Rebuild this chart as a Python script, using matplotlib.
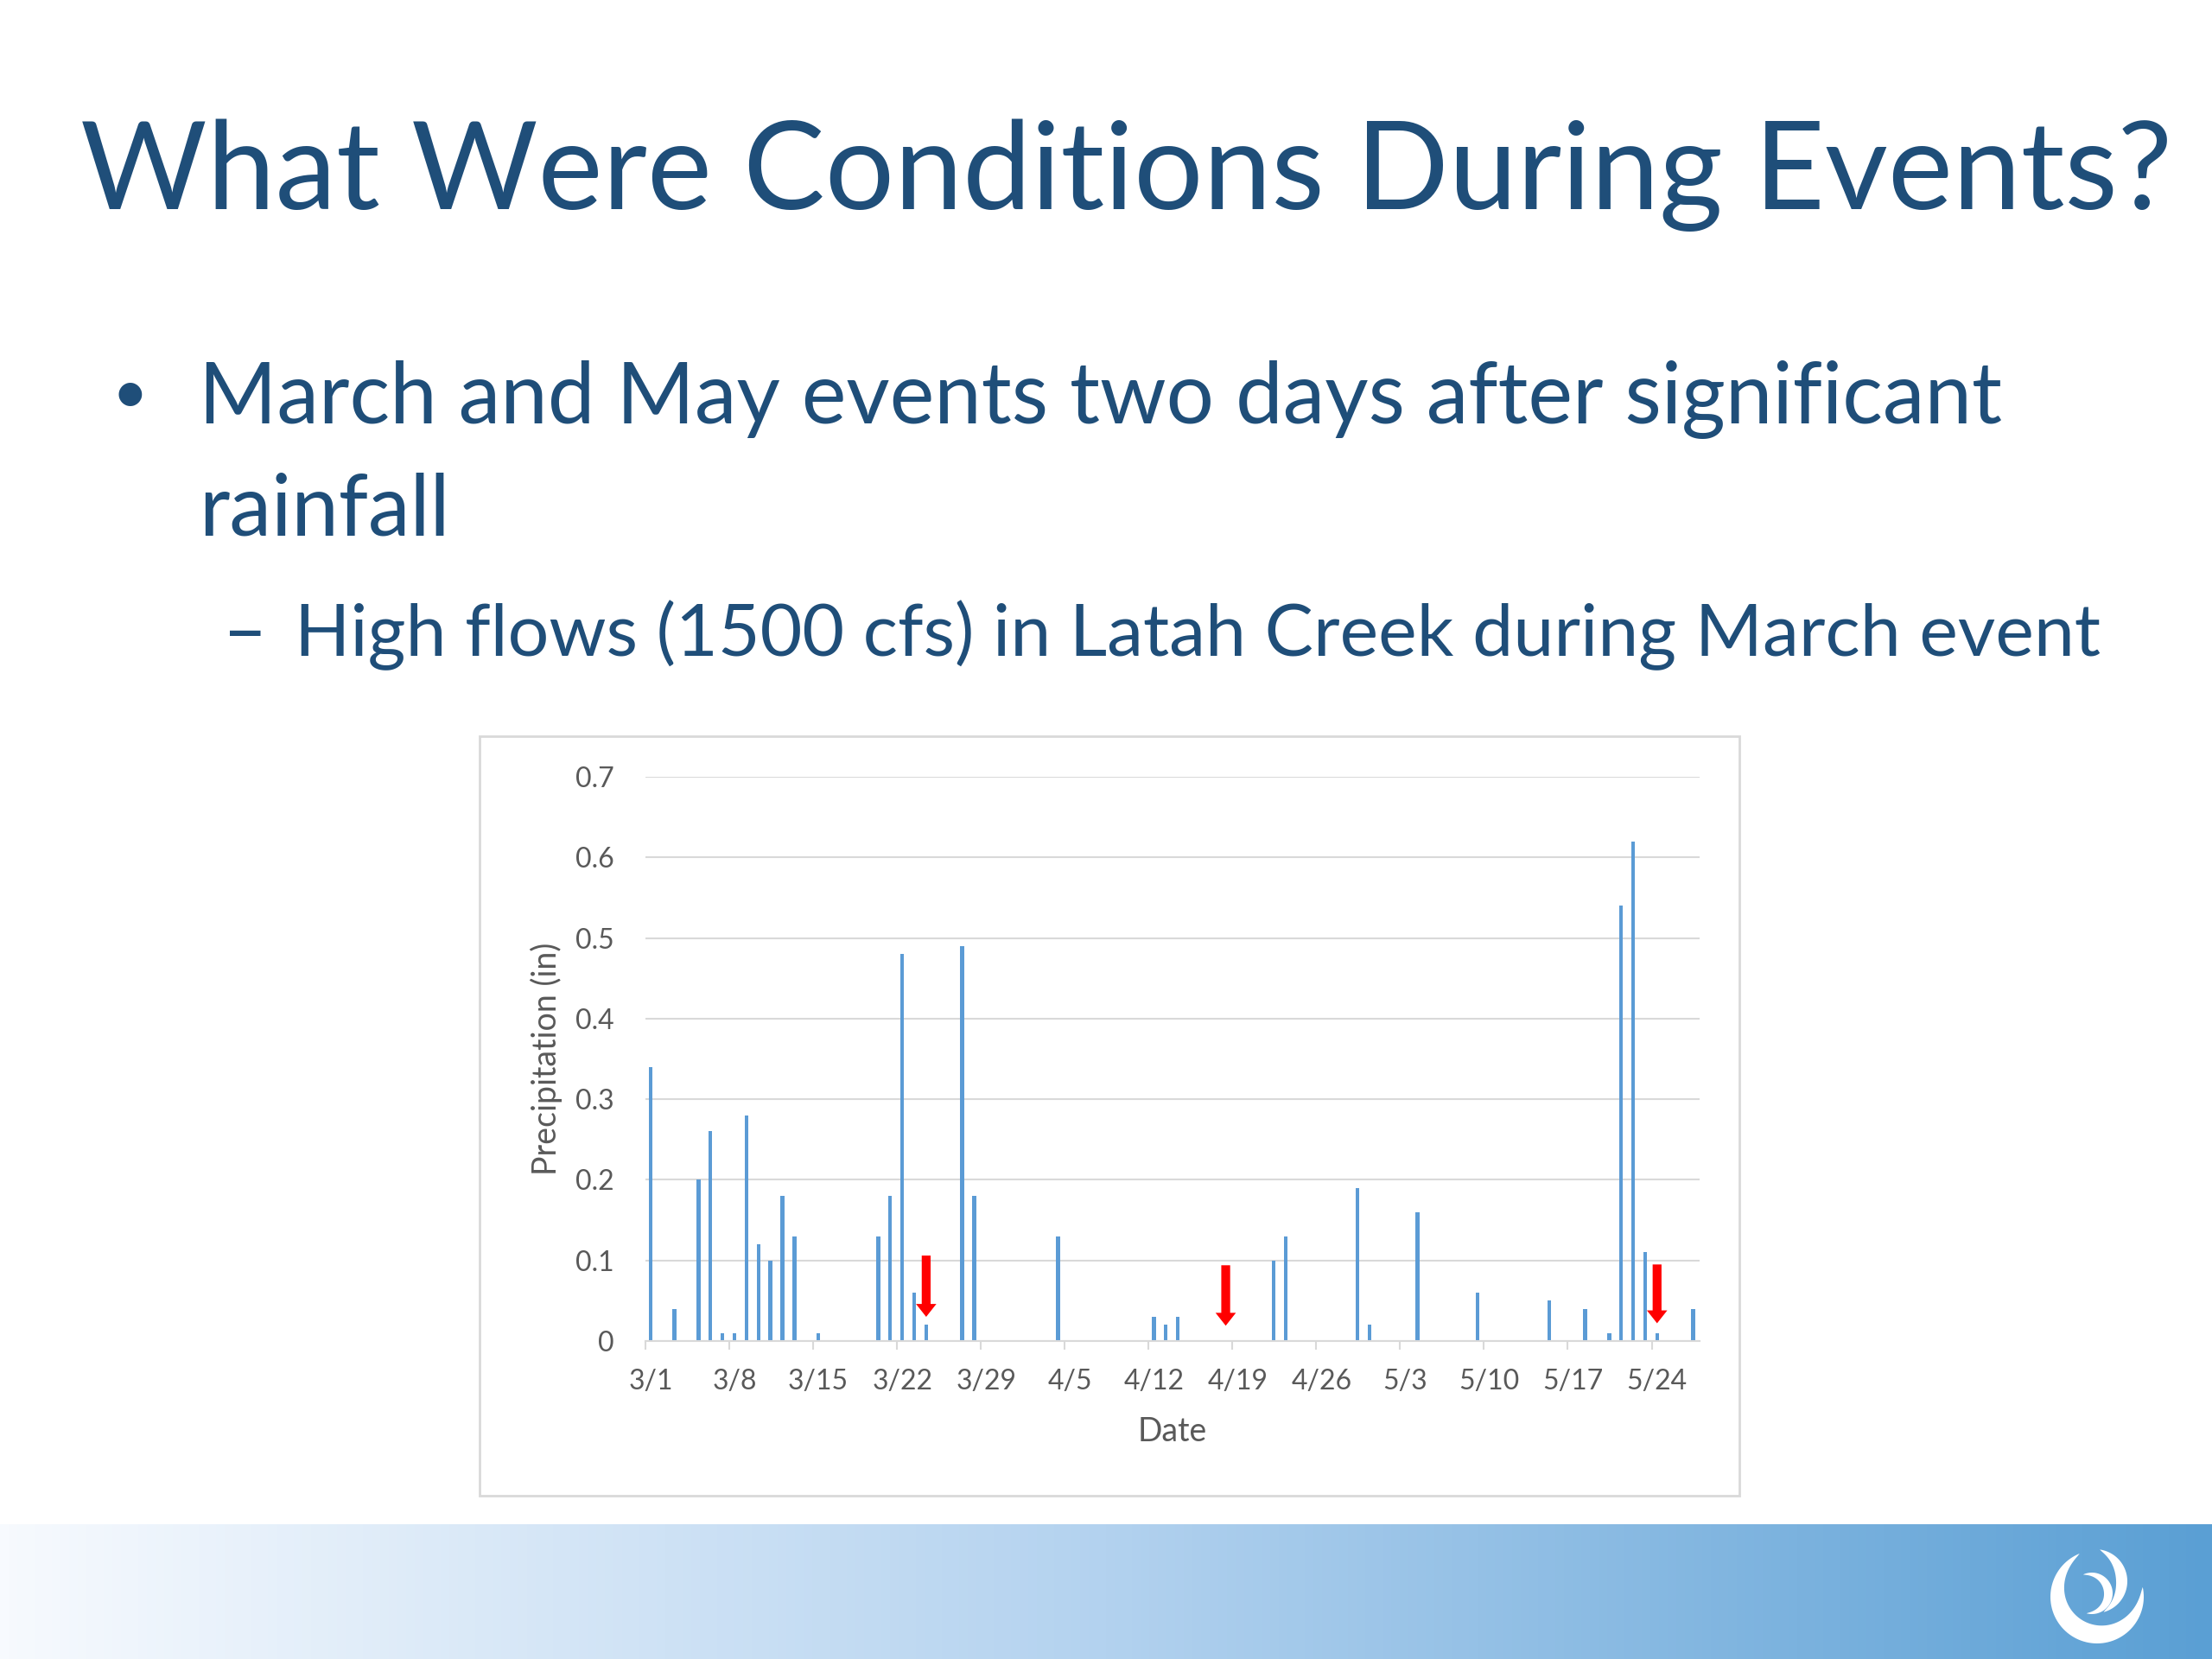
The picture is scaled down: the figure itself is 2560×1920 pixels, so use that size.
import matplotlib
matplotlib.use("Agg")
import matplotlib.pyplot as plt
import numpy as np
import pandas as pd
from matplotlib.colors import LinearSegmentedColormap
from matplotlib.patches import Rectangle, Polygon

plt.rcParams['font.family'] = ['Lato', 'DejaVu Sans']

# daily precipitation, spring (m/d)
dates = ['3/1', '3/3', '3/5', '3/6', '3/7', '3/8', '3/9', '3/10', '3/11', '3/12',
         '3/13', '3/15', '3/20', '3/21', '3/22', '3/23', '3/24', '3/27', '3/28',
         '4/4', '4/12', '4/13', '4/14', '4/22', '4/23', '4/29', '4/30',
         '5/4', '5/9', '5/15', '5/18', '5/20', '5/21', '5/22', '5/23', '5/24', '5/27']
precip = [0.34, 0.04, 0.20, 0.26, 0.01, 0.01, 0.28, 0.12, 0.10, 0.18,
          0.13, 0.01, 0.13, 0.18, 0.48, 0.06, 0.02, 0.49, 0.18,
          0.13, 0.03, 0.02, 0.03, 0.10, 0.13, 0.19, 0.02,
          0.16, 0.06, 0.05, 0.04, 0.01, 0.54, 0.62, 0.11, 0.01, 0.04]

# event markers (red arrows)
event_dates = ['3/24', '4/18', '5/24']
arrow_top = [0.106, 0.094, 0.095]
arrow_tip = [0.030, 0.019, 0.022]

tick_labels = ['3/1', '3/8', '3/15', '3/22', '3/29', '4/5', '4/12', '4/19',
               '4/26', '5/3', '5/10', '5/17', '5/24']
y_ticks = [0, 0.1, 0.2, 0.3, 0.4, 0.5, 0.6, 0.7]

title = 'What Were Conditions During Events?'
bullet1 = ['March and May events two days after significant', 'rainfall']
bullet2 = 'High flows (1500 cfs) in Latah Creek during March event'

W, H = 2560, 1920
navy = '#1f4e79'
grey = '#595959'
light = '#d9d9d9'
bar_blue = '#5b9bd5'

start = pd.Timestamp('2015-03-01')
def day_of(s):
    m, d = s.split('/')
    return (pd.Timestamp(2015, int(m), int(d)) - start).days

fig = plt.figure(figsize=(W / 100, H / 100), dpi=100)

# slide decoration layer in pixel coordinates
deco = fig.add_axes([0, 0, 1, 1], zorder=0)
deco.set_xlim(0, W)
deco.set_ylim(H, 0)
deco.axis('off')

band = LinearSegmentedColormap.from_list(
    'band', [(0, '#f7fafe'), (0.5, '#b3d2ef'), (1, '#5a9fd4')])
grad = np.linspace(0, 1, 512).reshape(1, -1)
deco.imshow(grad, cmap=band, aspect='auto', extent=[0, W, H, 1764], zorder=0)

# logo: three white crescents
def crescent(cx, cy, r, w, a0, a1):
    t = np.linspace(0, 1, 80)
    ang = np.radians(a0 + (a1 - a0) * t)
    thick = w * np.sin(np.pi * t) ** 0.8
    outer = np.c_[cx + r * np.cos(ang), cy - r * np.sin(ang)]
    inner = np.c_[cx + (r - thick) * np.cos(ang), cy - (r - thick) * np.sin(ang)]
    return Polygon(np.vstack([outer, inner[::-1]]), closed=True,
                   facecolor='white', edgecolor='none', zorder=3)

deco.add_patch(crescent(2427, 1848, 54, 22, 112, 372))
deco.add_patch(crescent(2425, 1830, 37, 13, 82, -75))
deco.add_patch(crescent(2421, 1844, 24, 10, 115, -105))

deco.text(93, 242, title, fontsize=102, color=navy, va='baseline')
deco.text(150, 478, '\u2022', fontsize=52, color=navy, va='baseline', ha='center')
deco.text(230, 490, bullet1[0], fontsize=70.3, color=navy, va='baseline')
deco.text(230, 620, bullet1[1], fontsize=70.3, color=navy, va='baseline')
deco.text(258, 759, '\u2013', fontsize=64, color=navy, va='baseline')
deco.text(341, 759, bullet2, fontsize=60.7, color=navy, va='baseline')

deco.add_patch(Rectangle((555, 852), 1458, 879, facecolor='white',
                         edgecolor=light, lw=2, zorder=1))

# chart
ax = fig.add_axes([746.7 / W, 1 - 1552 / H, (1967 - 746.7) / W, (1552 - 899) / H],
                  zorder=1)
ax.patch.set_alpha(0)
xs = np.array([day_of(d) for d in dates]) + 0.45
ax.bar(xs, precip, width=0.32, color=bar_blue, zorder=2)

for d, top, tip in zip(event_dates, arrow_top, arrow_tip):
    ax.arrow(day_of(d) + 0.45, top, 0, tip - top, width=0.74, head_width=1.7,
             head_length=0.016, length_includes_head=True,
             facecolor='red', edgecolor='none', zorder=3)

ax.set_xlim(0, 88)
ax.set_ylim(0, 0.7)
tick_days = [day_of(t) for t in tick_labels]
ax.set_xticks([d + 0.45 for d in tick_days])
ax.set_xticklabels(tick_labels)
ax.set_xticks(tick_days, minor=True)
ax.set_yticks(y_ticks)
ax.set_yticklabels(['0'] + ['%.1f' % v for v in y_ticks[1:]])
ax.yaxis.grid(True, color=light, lw=1.5)
ax.set_axisbelow(True)
for s in ['top', 'right', 'left']:
    ax.spines[s].set_visible(False)
ax.spines['bottom'].set_color(light)
ax.spines['bottom'].set_linewidth(1.5)
ax.tick_params(axis='x', which='major', length=0, pad=23,
               labelcolor=grey, labelsize=23)
ax.tick_params(axis='x', which='minor', colors=light, length=7, width=1.5)
ax.tick_params(axis='y', length=0, pad=26, labelcolor=grey, labelsize=23)
ax.set_xlabel('Date', fontsize=27, color=grey, labelpad=18)
ax.set_ylabel('Precipitation (in)', fontsize=27, color=grey, labelpad=11)

fig.savefig('out.png', dpi=100)
